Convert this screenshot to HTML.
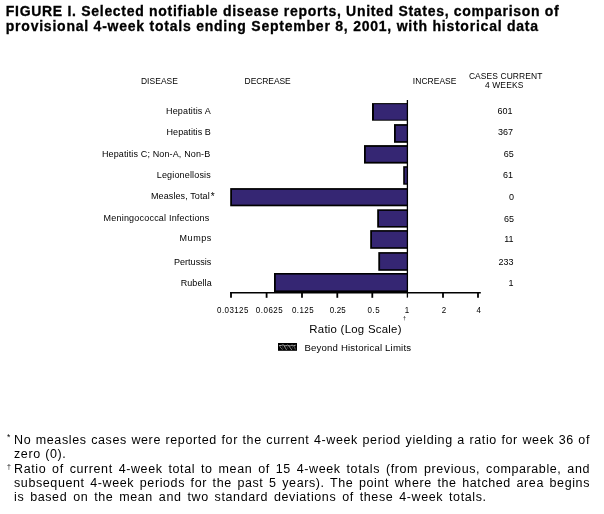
<!DOCTYPE html>
<html>
<head>
<meta charset="utf-8">
<style>
html,body{margin:0;padding:0;background:#fff;}
body{width:604px;height:514px;position:relative;overflow:hidden;font-family:"Liberation Sans",Arial,sans-serif;color:#000;}
svg,.fn,.mk{will-change:transform;}
svg{position:absolute;left:0;top:0;}
.fn{position:absolute;left:14px;width:576px;font-size:12.5px;line-height:14px;white-space:nowrap;color:#000;letter-spacing:0.6px;word-spacing:1.85px;}
.j{text-align:justify;text-align-last:justify;white-space:nowrap;word-spacing:0;}
.mk{position:absolute;font-size:7px;line-height:7px;color:#000;}
</style>
</head>
<body>
<svg width="604" height="514" viewBox="0 0 604 514" font-family="Liberation Sans, Arial, sans-serif">
<text id="title1" x="5.80" y="16.30" font-size="14" font-weight="bold" fill="#000" letter-spacing="0.702" stroke="#000" stroke-width="0.3">FIGURE I. Selected notifiable disease reports, United States, comparison of</text>
<text id="title2" x="5.80" y="30.60" font-size="14" font-weight="bold" fill="#000" letter-spacing="0.769" stroke="#000" stroke-width="0.3">provisional 4-week totals ending September 8, 2001, with historical data</text>
<text id="h_disease" transform="translate(140.90 83.80) scale(0.89 1)" font-size="9.5" font-weight="normal" fill="#000" letter-spacing="0.084">DISEASE</text>
<text id="h_decrease" transform="translate(244.60 83.90) scale(0.89 1)" font-size="9.5" font-weight="normal" fill="#000" letter-spacing="-0.051">DECREASE</text>
<text id="h_increase" transform="translate(412.80 83.80) scale(0.89 1)" font-size="9.5" font-weight="normal" fill="#000" letter-spacing="0.076">INCREASE</text>
<text id="h_cases" transform="translate(468.90 78.80) scale(0.89 1)" font-size="9.5" font-weight="normal" fill="#000" letter-spacing="0.110">CASES CURRENT</text>
<text id="h_4weeks" transform="translate(484.90 87.50) scale(0.89 1)" font-size="9.5" font-weight="normal" fill="#000" letter-spacing="0.170">4 WEEKS</text>
<text id="l_hepa" x="166.00" y="114.00" font-size="9" font-weight="normal" fill="#000" letter-spacing="0.168">Hepatitis A</text>
<text id="l_hepb" x="166.50" y="135.10" font-size="9" font-weight="normal" fill="#000" letter-spacing="0.078">Hepatitis B</text>
<text id="l_hepc" x="101.90" y="156.60" font-size="9" font-weight="normal" fill="#000" letter-spacing="0.136">Hepatitis C; Non-A, Non-B</text>
<text id="l_leg" x="156.80" y="177.50" font-size="9" font-weight="normal" fill="#000" letter-spacing="0.155">Legionellosis</text>
<text id="l_meas" x="151.00" y="199.00" font-size="9" font-weight="normal" fill="#000" letter-spacing="0.098">Measles, Total</text>
<text id="l_star" x="210.80" y="200.20" font-size="10" font-weight="normal" fill="#000" letter-spacing="0.000">*</text>
<text id="l_men" x="103.60" y="221.40" font-size="9" font-weight="normal" fill="#000" letter-spacing="0.202">Meningococcal Infections</text>
<text id="l_mumps" x="179.60" y="240.70" font-size="9" font-weight="normal" fill="#000" letter-spacing="0.524">Mumps</text>
<text id="l_pert" x="174.00" y="264.80" font-size="9" font-weight="normal" fill="#000" letter-spacing="0.024">Pertussis</text>
<text id="l_rub" x="180.70" y="285.70" font-size="9" font-weight="normal" fill="#000" letter-spacing="0.081">Rubella</text>
<text id="n1" x="497.49" y="114.10" font-size="9" font-weight="normal" fill="#000" letter-spacing="0.000">601</text>
<text id="n2" x="497.99" y="134.90" font-size="9" font-weight="normal" fill="#000" letter-spacing="0.000">367</text>
<text id="n3" x="503.69" y="156.90" font-size="9" font-weight="normal" fill="#000" letter-spacing="0.000">65</text>
<text id="n4" x="502.99" y="177.70" font-size="9" font-weight="normal" fill="#000" letter-spacing="0.000">61</text>
<text id="n5" x="508.90" y="200.00" font-size="9" font-weight="normal" fill="#000" letter-spacing="0.000">0</text>
<text id="n6" x="503.89" y="221.90" font-size="9" font-weight="normal" fill="#000" letter-spacing="0.000">65</text>
<text id="n7" x="504.16" y="241.80" font-size="9" font-weight="normal" fill="#000" letter-spacing="0.000">11</text>
<text id="n8" x="498.59" y="264.70" font-size="9" font-weight="normal" fill="#000" letter-spacing="0.000">233</text>
<text id="n9" x="508.50" y="285.70" font-size="9" font-weight="normal" fill="#000" letter-spacing="0.000">1</text>
<text id="t1" transform="translate(217.10 312.90) scale(0.95 1)" font-size="8.4" font-weight="normal" fill="#000" letter-spacing="0.424">0.03125</text>
<text id="t2" transform="translate(255.80 312.90) scale(0.95 1)" font-size="8.4" font-weight="normal" fill="#000" letter-spacing="0.535">0.0625</text>
<text id="t3" transform="translate(292.00 312.90) scale(0.95 1)" font-size="8.4" font-weight="normal" fill="#000" letter-spacing="0.438">0.125</text>
<text id="t4" transform="translate(329.70 312.90) scale(0.95 1)" font-size="8.4" font-weight="normal" fill="#000" letter-spacing="0.172">0.25</text>
<text id="t5" transform="translate(367.50 312.90) scale(0.95 1)" font-size="8.4" font-weight="normal" fill="#000" letter-spacing="0.534">0.5</text>
<text id="t6" transform="translate(404.70 313.00) scale(0.95 1)" font-size="8.4" font-weight="normal" fill="#000" letter-spacing="0.000">1</text>
<text id="t7" transform="translate(441.70 313.00) scale(0.95 1)" font-size="8.4" font-weight="normal" fill="#000" letter-spacing="0.000">2</text>
<text id="t8" transform="translate(476.40 313.00) scale(0.95 1)" font-size="8.4" font-weight="normal" fill="#000" letter-spacing="0.000">4</text>
<text id="ratio" x="309.30" y="332.80" font-size="11.4" font-weight="normal" fill="#000" letter-spacing="0.262">Ratio (Log Scale)</text>
<text id="beyond" x="304.40" y="350.70" font-size="9.6" font-weight="normal" fill="#000" letter-spacing="0.188">Beyond Historical Limits</text>
  <!-- bars -->
  <g>
    <rect x="372.00" y="103.10" width="35.60" height="17.60" fill="#000"/>
    <rect x="374.00" y="104.20" width="33.60" height="15.50" fill="#352673"/>
    <rect x="394.00" y="124.10" width="13.60" height="18.70" fill="#000"/>
    <rect x="395.80" y="125.80" width="11.80" height="15.30" fill="#352673"/>
    <rect x="364.00" y="145.10" width="43.60" height="18.50" fill="#000"/>
    <rect x="365.80" y="146.90" width="41.80" height="14.90" fill="#352673"/>
    <rect x="403.20" y="166.20" width="4.40" height="18.50" fill="#000"/>
    <rect x="404.80" y="167.70" width="2.80" height="15.70" fill="#352673"/>
    <rect x="230.20" y="188.10" width="177.40" height="18.20" fill="#000"/>
    <rect x="232.00" y="189.80" width="175.60" height="14.80" fill="#352673"/>
    <rect x="377.20" y="209.30" width="30.40" height="18.30" fill="#000"/>
    <rect x="379.00" y="210.90" width="28.60" height="15.10" fill="#352673"/>
    <rect x="370.20" y="230.10" width="37.40" height="18.70" fill="#000"/>
    <rect x="372.00" y="231.70" width="35.60" height="15.50" fill="#352673"/>
    <rect x="378.30" y="252.10" width="29.30" height="18.70" fill="#000"/>
    <rect x="380.10" y="253.70" width="27.50" height="15.50" fill="#352673"/>
    <rect x="274.00" y="273.00" width="133.60" height="19.00" fill="#000"/>
    <rect x="275.80" y="274.60" width="131.80" height="15.80" fill="#352673"/>
  </g>
  <!-- axes -->
  <g stroke="#000" fill="none">
    <line x1="407.4" y1="100" x2="407.4" y2="297.6" stroke-width="1.3"/>
    <line x1="230.2" y1="292.8" x2="480.8" y2="292.8" stroke-width="1.6"/>
    <g stroke-width="1.8">
      <line x1="231" y1="292" x2="231" y2="297.8"/>
      <line x1="266.6" y1="292" x2="266.6" y2="297.8"/>
      <line x1="302" y1="292" x2="302" y2="297.8"/>
      <line x1="337.3" y1="292" x2="337.3" y2="297.8"/>
      <line x1="372.3" y1="292" x2="372.3" y2="297.8"/>
      <line x1="443" y1="292" x2="443" y2="297.8"/>
      <line x1="478" y1="292" x2="478" y2="297.8"/>
    </g>
  </g>
  <text x="404.6" y="319.9" font-size="5.5" fill="#000" text-anchor="middle">†</text>
  <!-- legend -->
  <rect x="278" y="343" width="19" height="7.8" fill="#000"/>
  <g fill="none" stroke-linecap="round">
    <path d="M279.3 345.6 L281.5 345.4 L283 344.8 L284.5 345.6 L286 345.9 L287.5 345.1 L289 345.8 L290.5 345.8 L292 345.1 L293.5 345.7 L295.3 345.3" stroke="#d8d8d8" stroke-width="0.75"/>
    <path d="M284.2 346 L286.4 349.6 M289 346.3 L291.6 349.6" stroke="#c8c8c8" stroke-width="0.7"/>
    <path d="M280 346.6 Q280.6 348.6 282.3 349.3 M294 346.3 Q295 347.6 295.2 349.1" stroke="#8a8a8a" stroke-width="0.8"/>
    <path d="M282.5 346.5 L283.2 348.5 M287.2 346.6 L287.8 348.6 M292.2 346.5 L292.8 348.4" stroke="#555" stroke-width="0.6"/>
  </g>
</svg>
<div class="mk" style="left:7px;top:433.5px;font-size:8.5px;">*</div>
<div class="fn j" style="top:433px;">No measles cases were reported for the current 4-week period yielding a ratio for week 36 of</div>
<div class="fn" style="top:447px;word-spacing:0.4px;">zero (0).</div>
<div class="mk" style="left:7px;top:463px;color:#000;">†</div>
<div class="fn j" style="top:462px;">Ratio of current 4-week total to mean of 15 4-week totals (from previous, comparable, and</div>
<div class="fn j" style="top:476px;">subsequent 4-week periods for the past 5 years). The point where the hatched area begins</div>
<div class="fn" style="top:490px;">is based on the mean and two standard deviations of these 4-week totals.</div>
</body>
</html>
